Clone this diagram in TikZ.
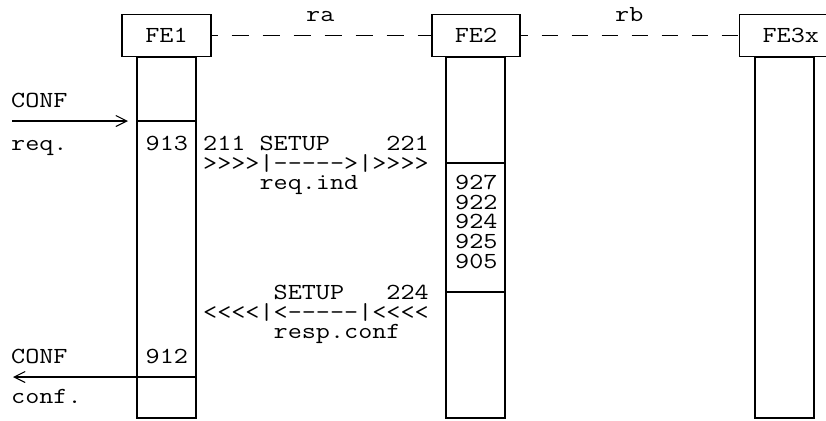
\documentclass[tikz,border=0pt]{standalone}
\usepackage{graphicx}
\usetikzlibrary{arrows.meta}
\newcommand\mytt[1]{\scalebox{1.19}[1]{#1}}
\newcommand\ltc{\hbox{<}}
\newcommand\gtc{\hbox{>}}
\newcommand\hyc{\hbox{-}}
\tikzset{
  ln/.style={line width=1.1pt},
  box/.style={draw, line width=1.1pt, minimum height=42pt, inner sep=0pt,
    text height=14pt, text depth=0pt, font=\ttfamily\fontsize{23}{20}\selectfont},
  txt/.style={inner sep=0pt, anchor=base west, font=\ttfamily\fontsize{23}{20}\selectfont},
  msg/.style={line width=1.1pt, -{Straight Barb[length=11pt,width=11pt,line width=1.1pt]}},
  dashA/.style={line width=1.1pt, dash pattern=on 17pt off 14pt, dash phase=11pt},
  dashB/.style={line width=1.1pt, dash pattern=on 16pt off 14pt, dash phase=9pt}
}
\begin{document}
\begin{tikzpicture}[x=1pt,y=-1pt]
\useasboundingbox (0,0) rectangle (826,420);
% entity boxes
\node[box, minimum width=89pt] (fe1) at (166.5,35.5) {\mytt{FE1}};
\node[box, minimum width=88pt] (fe2) at (476,35.5) {\mytt{FE2}};
\node[box, minimum width=102pt] (fe3) at (790.8,35.5) {\mytt{FE3x}};
% relations
\draw[dashA] (fe1.east) -- (fe2.west);
\draw[dashB] (fe2.east) -- (fe3.west);
\node[txt] (ra) at (306,22) {\mytt{ra}};
\node[txt] (rb) at (615,22) {\mytt{rb}};
% columns
\draw[ln] (137,57) rectangle (196,418);
\draw[ln] (446,57) rectangle (505,418);
\draw[ln] (755,57) rectangle (814,418);
% state lines in columns
\draw[ln] (137,121) -- (196,121);
\draw[ln] (446,163) -- (505,163);
\draw[ln] (446,292) -- (505,292);
% incoming request
\node[txt] (conf1) at (11,107) {\mytt{CONF}};
\node[txt] (req1) at (11,150) {\mytt{req.}};
\coordinate (inA) at (12,121);
\coordinate (inB) at (128,121);
\draw[msg] (inA) -- (inB);
\node[txt] (n913) at (145.5,150) {\mytt{913}};
% SETUP req.ind
\node[txt] (s1a) at (203,150) {\mytt{211\ SETUP\ \ \ \ 221}};
\node[txt] (s1b) at (203,170) {\mytt{\gtc\gtc\gtc\gtc|\hyc\hyc\hyc\hyc\hyc\gtc|\gtc\gtc\gtc\gtc}};
\node[txt] (s1c) at (203,189.5) {\mytt{\ \ \ \ req.ind}};
% FE2 actions
\node[txt] (n927) at (455,189.5) {\mytt{927}};
\node[txt] (n922) at (455,209.2) {\mytt{922}};
\node[txt] (n924) at (455,228.9) {\mytt{924}};
\node[txt] (n925) at (455,248.6) {\mytt{925}};
\node[txt] (n905) at (455,268.3) {\mytt{905}};
% SETUP resp.conf
\node[txt] (s2a) at (203,299) {\mytt{\ \ \ \ \ SETUP\ \ \ 224}};
\node[txt] (s2b) at (203,319) {\mytt{\ltc\ltc\ltc\ltc|\ltc\hyc\hyc\hyc\hyc\hyc|\ltc\ltc\ltc\ltc}};
\node[txt] (s2c) at (203,338.5) {\mytt{\ \ \ \ \ resp.conf}};
% outgoing confirmation
\node[txt] (conf2) at (11,363) {\mytt{CONF}};
\node[txt] (n912) at (145.5,363) {\mytt{912}};
\coordinate (outA) at (196,377);
\coordinate (outB) at (13,377);
\draw[msg] (outA) -- (outB);
\node[txt] (conf3) at (11,403) {\mytt{conf.}};
\end{tikzpicture}
\end{document}
